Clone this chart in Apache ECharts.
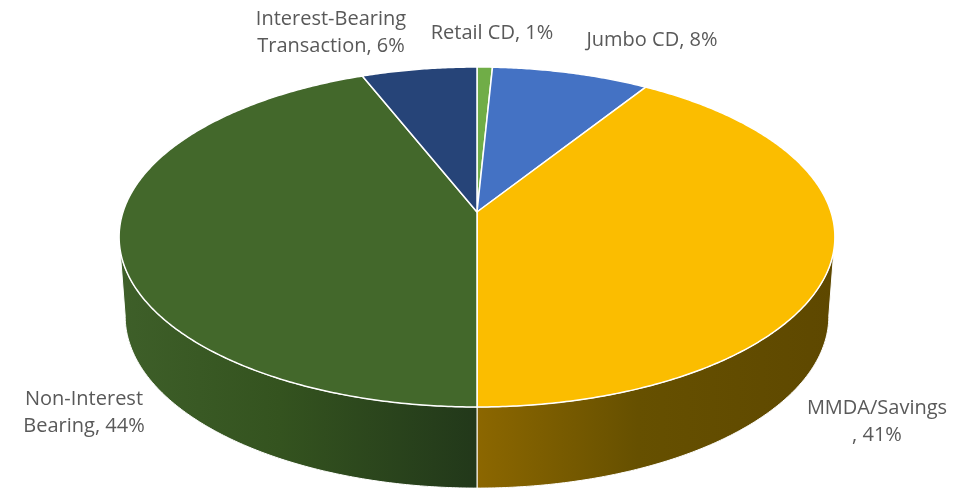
<!DOCTYPE html>
<html><head><meta charset="utf-8">
<script src="https://cdn.jsdelivr.net/npm/echarts@6/dist/echarts.min.js"></script>
<style>html,body{margin:0;padding:0;background:#fff}#c{width:979px;height:491px}</style>
</head><body><div id="c"></div>
<script>
// ---- data ----
const categories = ['Retail CD', 'Jumbo CD', 'MMDA/Savings', 'Non-Interest Bearing', 'Interest-Bearing Transaction'];
const values = [0.8, 8.2, 41, 44, 6];
// ---- styles / layout ----
const topColors = ['#70AD47', '#4472C4', '#FBBD00', '#43682B', '#264478'];
const sideColors = [
  ['#5a8c39', '#4d7a31', '#3f6a27'],
  ['#365c9e', '#2e5088', '#243f70'],
  ['#8C6700', '#665000', '#5E4800'],
  ['#3E5F29', '#34531F', '#22381A'],
  ['#1e365f', '#1a2f52', '#142540']
];
const labelNames = ['Retail CD', 'Jumbo CD', 'MMDA/Savings\n', 'Non-Interest\nBearing', 'Interest-Bearing\nTransaction'];
const labelAnchors = [[492, 33], [652, 40], [877, 422], [84, 413], [331, 33]];
const G = { cx: 477, cy: 212, A: 354, B: 166.3, k: 0.147, cyB: 290.8, AB: 348, BB: 168.3 };

const total = values.reduce((a, b) => a + b, 0);
let acc = 0;
const sliceData = values.map((v, i) => { const s = acc / total; acc += v; return [v, s, acc / total, i]; });

function proj(theta, bottom) {
  const u = Math.sin(theta), v = -Math.cos(theta);
  const w = 1 / (1 - G.k * v);
  return bottom ? [G.cx + G.AB * u * w, G.cyB + G.BB * v * w] : [G.cx + G.A * u * w, G.cy + G.B * v * w];
}
function arcPts(t1, t2, bottom) {
  const pts = [];
  const n = Math.max(2, Math.ceil(Math.abs(t2 - t1) / (Math.PI / 360)));
  for (let j = 0; j <= n; j++) pts.push(proj(t1 + (t2 - t1) * j / n, bottom));
  return pts;
}
const silL = Math.acos(-G.k), silR = 2 * Math.PI - Math.acos(-G.k);

const chart = echarts.init(document.getElementById('c'), null, { renderer: 'canvas' });
chart.setOption({
  animation: false,
  backgroundColor: '#ffffff',
  series: [
    {
      type: 'custom', coordinateSystem: 'none', z: 1, silent: true,
      data: sliceData,
      renderItem: function (params, api) {
        const i = api.value(3);
        const t1 = Math.max(api.value(1) * 2 * Math.PI, silL);
        const t2 = Math.min(api.value(2) * 2 * Math.PI, silR);
        if (t2 <= t1) return { type: 'group', children: [] };
        const pts = arcPts(t1, t2, false).concat(arcPts(t2, t1, true));
        return {
          type: 'polygon',
          shape: { points: pts },
          style: {
            fill: new echarts.graphic.LinearGradient(0, 0, 1, 0, [
              { offset: 0, color: sideColors[i][0] },
              { offset: 0.45, color: sideColors[i][1] },
              { offset: 1, color: sideColors[i][2] }
            ]),
            stroke: '#ffffff', lineWidth: 1
          }
        };
      }
    },
    {
      type: 'custom', coordinateSystem: 'none', z: 2, silent: true,
      data: sliceData,
      renderItem: function (params, api) {
        const i = api.value(3);
        const t1 = api.value(1) * 2 * Math.PI, t2 = api.value(2) * 2 * Math.PI;
        const pts = [[G.cx, G.cy]].concat(arcPts(t1, t2, false));
        return {
          type: 'polygon',
          shape: { points: pts },
          style: { fill: topColors[i], stroke: '#ffffff', lineWidth: 1.5, lineJoin: 'round' }
        };
      }
    },
    {
      type: 'custom', coordinateSystem: 'none', z: 3, silent: true,
      data: sliceData,
      renderItem: function (params, api) {
        const i = api.value(3);
        const pct = Math.round(api.value(0) / total * 100);
        return {
          type: 'text',
          x: labelAnchors[i][0], y: labelAnchors[i][1],
          style: {
            text: labelNames[i] + ', ' + pct + '%',
            fill: '#595959',
            font: '20px "Open Sans"',
            textAlign: 'center', textVerticalAlign: 'middle',
            lineHeight: 27
          }
        };
      }
    }
  ]
});
</script></body></html>
